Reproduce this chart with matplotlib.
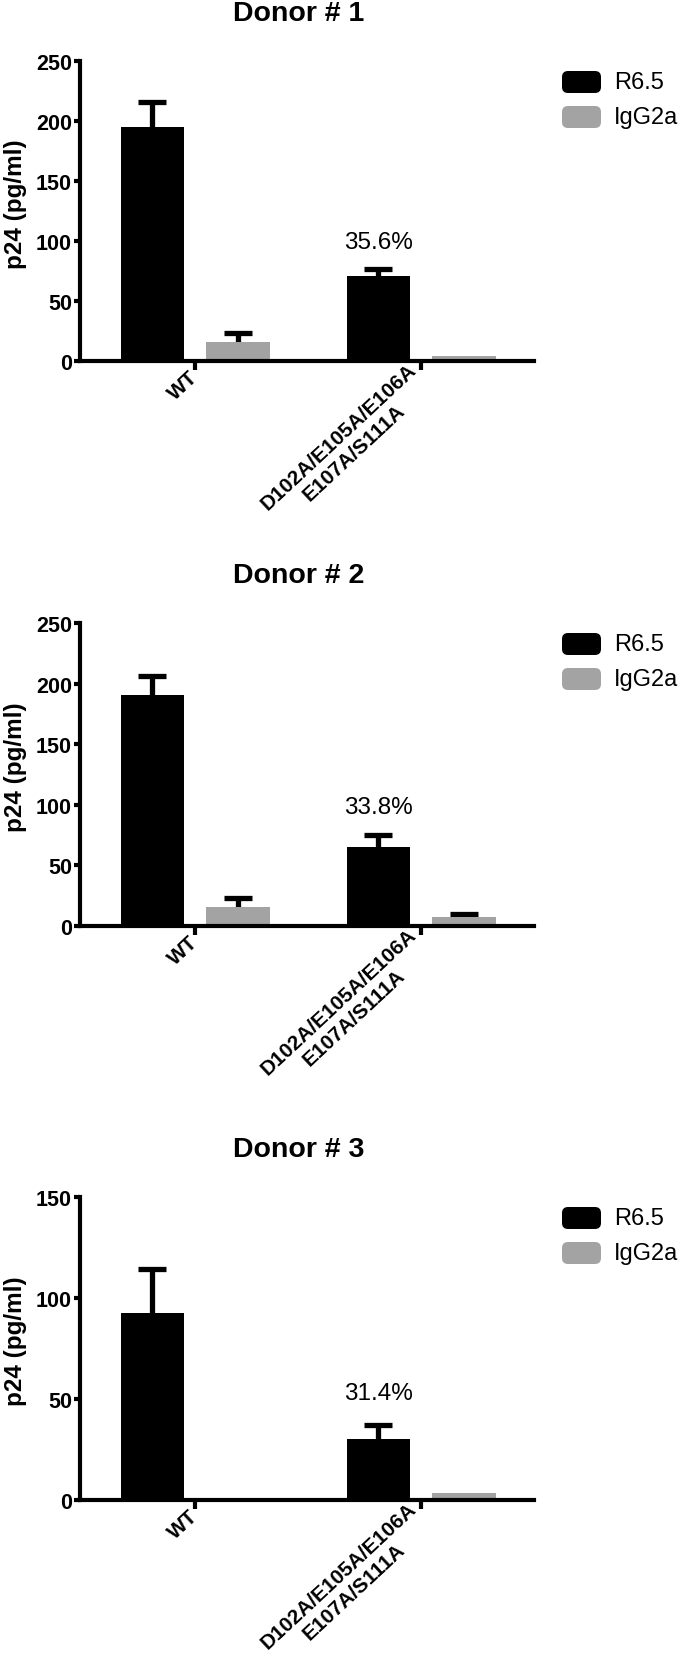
import numpy as np
import matplotlib.pyplot as plt
from matplotlib.patches import FancyBboxPatch
from matplotlib.transforms import IdentityTransform

plt.rcParams['font.family'] = ['Liberation Sans', 'DejaVu Sans']

# ---- data ----
groups = ['WT', 'D102A/E105A/E106A\nE107A/S111A']
series = ['R6.5', 'IgG2a']
colors = ['black', '#a3a3a3']
titles = ['Donor # 1', 'Donor # 2', 'Donor # 3']

r65_mean = [[195, 71], [190.5, 65], [92.5, 30]]
r65_err = [[21, 6], [16, 10], [22, 7]]
igg_mean = [[15.5, 4], [16, 7.5], [0, 3.5]]
igg_err = [[7.5, 0], [7, 2.5], [0, 0]]
pct_labels = ['35.6%', '33.8%', '31.4%']
pct_y = [99, 98, 53]
ymax = [250, 250, 150]

W, H = 680, 1674
fig = plt.figure(figsize=(W / 100, H / 100), dpi=100)

# axes boxes in pixels (top, bottom)
axes_px = [(62, 362), (624, 927), (1198, 1501)]
x0, x1 = 80, 534

bw = 0.28   # bar width
off = 0.19  # bar offset from group centre
x = np.arange(len(groups))

for i in range(3):
    top, bot = axes_px[i]
    ax = fig.add_axes([x0 / W, 1 - bot / H, (x1 - x0) / W, (bot - top) / H])

    data = [(r65_mean[i], r65_err[i]), (igg_mean[i], igg_err[i])]
    for k, (means, errs) in enumerate(data):
        means = np.array(means, dtype=float)
        errs = np.array(errs, dtype=float)
        xs = x + (2 * k - 1) * off
        ax.bar(xs, means, bw, color=colors[k], zorder=2)
        m = errs > 0
        if m.any():
            # symmetric bars drawn behind the columns -> only the upper half shows
            ax.errorbar(xs[m], means[m], yerr=errs[m],
                        fmt='none', ecolor='black', elinewidth=3.8,
                        capsize=10, capthick=3.8, zorder=1)

    ax.text(x[1] - off, pct_y[i], pct_labels[i], ha='center', va='center',
            fontsize=17.5)

    ax.set_xlim(-0.51, 1.5)
    ax.set_ylim(0, ymax[i])
    ax.set_yticks(np.arange(0, ymax[i] + 1, 50))
    ax.set_xticks(x)
    ax.set_xticklabels(groups, rotation=43, ha='right', va='center',
                       rotation_mode='anchor', multialignment='center',
                       fontsize=15, fontweight='bold')
    for lbl in ax.get_yticklabels():
        lbl.set_fontweight('bold')

    for s in ['top', 'right']:
        ax.spines[s].set_visible(False)
    for s in ['left', 'bottom']:
        ax.spines[s].set_linewidth(3)
    ax.tick_params(axis='y', length=4.3, width=3, labelsize=15.5, pad=1.5)
    ax.tick_params(axis='x', length=6.5, width=3, pad=3)

    ax.set_ylabel('p24 (pg/ml)', fontsize=17.5, fontweight='bold')
    ax.yaxis.set_label_coords(-0.117, 0.527)

    ax.text(0.482, 1 + 48 / (bot - top), titles[i], transform=ax.transAxes,
            ha='center', va='center', fontsize=20.5, fontweight='bold')

    # legend with rounded swatches
    for k, name in enumerate(series):
        cy = H - (top + 21 + 35 * k)
        fig.add_artist(FancyBboxPatch((562, cy - 11), 39, 22,
                                      boxstyle='round,pad=0,rounding_size=6',
                                      transform=IdentityTransform(),
                                      fc=colors[k], ec='none'))
        fig.text(614 / W, cy / H, name, fontsize=17, va='center', ha='left')

fig.savefig('out.png', dpi=100)
